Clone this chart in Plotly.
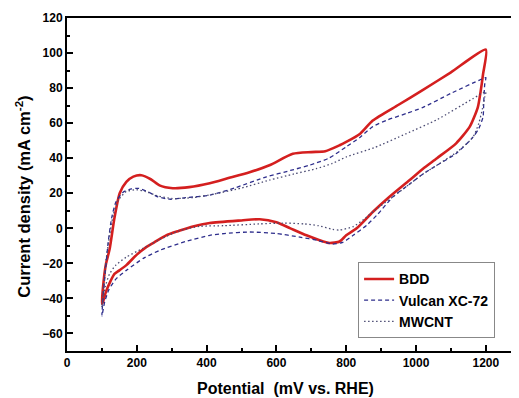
import plotly.graph_objects as go

# BDD loop (anodic then cathodic)
bdd_v = [100, 105, 112, 122, 136, 151, 170, 190, 213, 240, 265, 303, 350, 409, 460, 523, 580, 647, 700, 740, 781, 800, 840, 876, 950, 1020, 1100, 1200,
         1192, 1185, 1177, 1154, 1115, 1060, 1020, 981, 924, 876, 830, 800, 781, 752, 720, 686, 640, 600, 552, 500, 409, 361, 320, 284, 250, 227, 200, 170, 150, 136, 125, 112, 103, 100]
bdd_j = [-43, -30, -20, -12, 6, 20, 26.5, 29.5, 30.3, 28, 24.5, 22.9, 23.5, 25.7, 28.5, 32, 36, 42.5, 43.5, 44, 47.4, 49.3, 54, 61.5, 70.5, 79, 89, 102,
         88, 78, 69, 58, 48.5, 40, 34, 27.4, 18, 9.3, 0, -4, -7.5, -8.4, -6.5, -4, 0, 3.5, 5.2, 4.5, 3, 1.1, -1.5, -4, -8, -10.7, -15, -21, -24, -26, -30, -36, -42, -43]

# Vulcan XC-72 loop
vul_v = [100, 104, 110, 118, 128, 140, 160, 185, 205, 230, 260, 294, 340, 409, 480, 571, 640, 695, 750, 800, 840, 876, 920, 972, 1020, 1100, 1182, 1200,
         1197, 1194, 1192, 1180, 1163, 1115, 1060, 1020, 980, 934, 890, 860, 820, 790, 760, 720, 667, 600, 523, 450, 409, 340, 265, 220, 170, 140, 120, 108, 100]
vul_j = [-50, -38, -24, -8, 6, 15, 20.5, 22.5, 22.8, 21, 18, 16.6, 17.5, 18.9, 23, 29.3, 33, 36, 40, 46.5, 52, 58, 62, 65.5, 69, 77, 84.6, 86,
         82.7, 72, 63.6, 57, 52, 42.7, 36, 31, 25, 18, 8, 2, -4, -8, -9, -7, -5, -3, -2.1, -3, -4, -7.5, -12.6, -17, -24, -29, -35, -42, -50]

# MWCNT loop
mw_v = [100, 105, 112, 122, 133, 147, 170, 200, 225, 260, 300, 360, 420, 500, 580, 650, 714, 760, 800, 880, 972, 1060, 1163, 1200,
        1197, 1190, 1180, 1163, 1120, 1060, 1020, 980, 934, 880, 850, 820, 781, 761, 720, 680, 618, 550, 450, 380, 320, 260, 217, 170, 140, 122, 110, 103, 100]
mw_j = [-45, -32, -18, -4, 8, 16, 21, 22, 21, 18.5, 17, 17.5, 19.5, 23, 27.5, 31, 34, 37, 40.7, 46, 54, 62, 74, 78,
        75, 68, 60, 52, 44, 36, 31, 25, 18, 10, 5, 1, -1, -0.6, 1.5, 2.5, 3, 2.5, 1.5, 1.1, -1.5, -7, -11.5, -16.4, -21, -26, -33, -40, -45]

x_ticks = [0, 200, 400, 600, 800, 1000, 1200]
y_ticks = [-60, -40, -20, 0, 20, 40, 60, 80, 100, 120]

fig = go.Figure()
fig.add_trace(go.Scatter(x=bdd_v, y=bdd_j, mode="lines", name="BDD",
                         line=dict(color="#d41f1f", width=2.6, shape="spline", smoothing=0.6)))
fig.add_trace(go.Scatter(x=vul_v, y=vul_j, mode="lines", name="Vulcan XC-72",
                         line=dict(color="#2e2e8c", width=1.3, dash="4px,3px", shape="spline", smoothing=0.6)))
fig.add_trace(go.Scatter(x=mw_v, y=mw_j, mode="lines", name="MWCNT",
                         line=dict(color="#4a4a72", width=1.3, dash="1.5px,2.5px", shape="spline", smoothing=0.6)))

FAM = "Liberation Sans, Arial"
tickfont = dict(family=FAM, size=12, color="black", weight="bold")

# page body adds an 8px offset, so the figure is 8px smaller and margins shifted
fig.update_layout(
    width=511, height=390,
    margin=dict(l=59, r=0, t=10, b=47),
    plot_bgcolor="white", paper_bgcolor="white",
    showlegend=True,
    legend=dict(x=0.644, y=0.266, xanchor="left", yanchor="top",
                bordercolor="#888888", borderwidth=1, bgcolor="white",
                font=dict(family=FAM, size=14, color="black", weight="bold"),
                tracegroupgap=0, itemwidth=30),
    xaxis=dict(range=[0, 1295], tickvals=x_ticks, ticks="inside", ticklen=6, tickwidth=2,
               tickcolor="black", showline=True, linecolor="black", linewidth=2, mirror=True,
               showgrid=False, zeroline=False, tickfont=tickfont, automargin=False,
               minor=dict(ticks="inside", ticklen=3, tickwidth=2, dtick=100, tickcolor="black", showgrid=False)),
    yaxis=dict(range=[-70, 120], tickvals=y_ticks, ticks="inside", ticklen=6, tickwidth=2,
               tickcolor="black", showline=True, linecolor="black", linewidth=2,
               showgrid=False, zeroline=False, tickfont=tickfont, automargin=False,
               minor=dict(ticks="inside", ticklen=3, tickwidth=2, dtick=10, tickcolor="black", showgrid=False)),
    annotations=[
        dict(text="Potential  (mV vs. RHE)", xref="paper", yref="paper", x=0.483, y=-0.113,
             xanchor="center", yanchor="middle", showarrow=False,
             font=dict(family=FAM, size=16, color="black", weight="bold")),
        dict(text="Current density (mA cm<sup>-2</sup>)", xref="paper", yref="paper", x=-0.097, y=0.464,
             xanchor="center", yanchor="middle", showarrow=False, textangle=-90,
             font=dict(family=FAM, size=16.5, color="black", weight="bold")),
    ],
)

fig.write_html("out.html")
